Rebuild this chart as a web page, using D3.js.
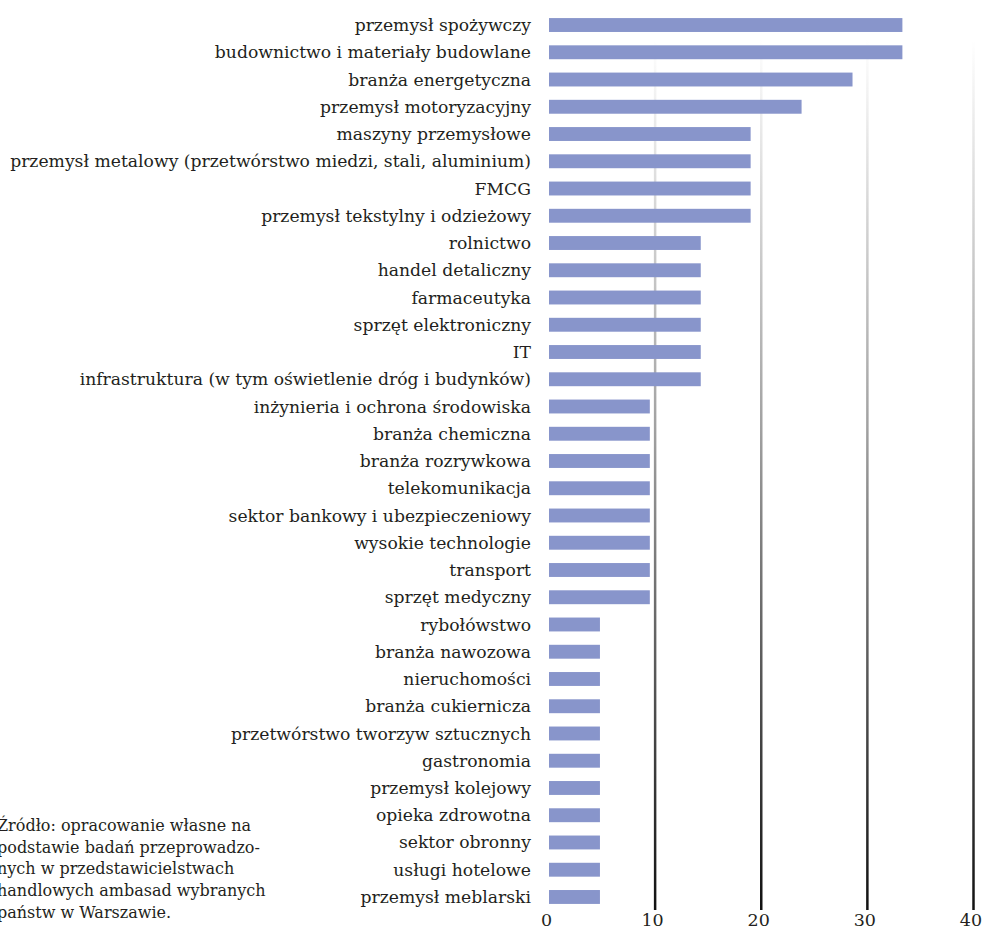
<!DOCTYPE html>
<html>
<head>
<meta charset="utf-8">
<script src="https://cdn.jsdelivr.net/npm/d3@7"></script>
<style>
  body { margin: 0; background: #fff; }
  svg text { font-family: 'DejaVu Serif', serif; fill: #231f20; }
</style>
</head>
<body>
<svg width="986" height="932"></svg>
<script>
var categories = [
  "przemysł spożywczy",
  "budownictwo i materiały budowlane",
  "branża energetyczna",
  "przemysł motoryzacyjny",
  "maszyny przemysłowe",
  "przemysł metalowy (przetwórstwo miedzi, stali, aluminium)",
  "FMCG",
  "przemysł tekstylny i odzieżowy",
  "rolnictwo",
  "handel detaliczny",
  "farmaceutyka",
  "sprzęt elektroniczny",
  "IT",
  "infrastruktura (w tym oświetlenie dróg i budynków)",
  "inżynieria i ochrona środowiska",
  "branża chemiczna",
  "branża rozrywkowa",
  "telekomunikacja",
  "sektor bankowy i ubezpieczeniowy",
  "wysokie technologie",
  "transport",
  "sprzęt medyczny",
  "rybołówstwo",
  "branża nawozowa",
  "nieruchomości",
  "branża cukiernicza",
  "przetwórstwo tworzyw sztucznych",
  "gastronomia",
  "przemysł kolejowy",
  "opieka zdrowotna",
  "sektor obronny",
  "usługi hotelowe",
  "przemysł meblarski"
];
var values = [
  33.3, 33.3, 28.6, 23.8,
  19.0, 19.0, 19.0, 19.0,
  14.3, 14.3, 14.3, 14.3, 14.3, 14.3,
  9.5, 9.5, 9.5, 9.5, 9.5, 9.5, 9.5, 9.5,
  4.8, 4.8, 4.8, 4.8, 4.8, 4.8, 4.8, 4.8, 4.8, 4.8, 4.8
];
var xTicks = [0, 10, 20, 30, 40];
var sourceLines = [
  "Źródło: opracowanie własne na",
  "podstawie badań przeprowadzo-",
  "nych w przedstawicielstwach",
  "handlowych ambasad wybranych",
  "państw w Warszawie."
];

var data = categories.map(function(c, i) { return {name: c, value: values[i]}; });

var svg = d3.select("svg");
var x = d3.scaleLinear().domain([0, 40]).range([549, 973.5]);
var y = d3.scaleBand().domain(categories).range([11.4, 910.6]).paddingInner(0.49).paddingOuter(0.245);

// gradient for grid lines (light at top, dark at bottom)
var defs = svg.append("defs");
var grad = defs.append("linearGradient")
    .attr("id", "gridGrad")
    .attr("gradientUnits", "userSpaceOnUse")
    .attr("x1", 0).attr("y1", 40).attr("x2", 0).attr("y2", 910);
grad.append("stop").attr("offset", "0%").attr("stop-color", "#ffffff");
grad.append("stop").attr("offset", "45%").attr("stop-color", "#a0a0a0");
grad.append("stop").attr("offset", "100%").attr("stop-color", "#111111");

svg.append("g")
  .selectAll("line")
  .data(xTicks.filter(function(d) { return d > 0; }))
  .enter()
  .append("line")
  .attr("x1", function(d) { return x(d); })
  .attr("x2", function(d) { return x(d); })
  .attr("y1", 40)
  .attr("y2", 910)
  .attr("stroke", "url(#gridGrad)")
  .attr("stroke-width", 2.5);

svg.append("g")
  .selectAll("rect")
  .data(data)
  .enter()
  .append("rect")
  .attr("x", x(0))
  .attr("y", function(d) { return y(d.name); })
  .attr("width", function(d) { return x(d.value) - x(0); })
  .attr("height", y.bandwidth())
  .attr("fill", "#8895cb");

// category labels
svg.append("g")
  .selectAll("text")
  .data(data)
  .enter()
  .append("text")
  .attr("x", 531)
  .attr("y", function(d) { return y(d.name) + y.bandwidth() / 2; })
  .attr("dy", "0.35em")
  .attr("text-anchor", "end")
  .style("font-size", "17.2px")
  .text(function(d) { return d.name; });

// x axis
var xAxis = svg.append("g")
  .attr("transform", "translate(0,909)")
  .call(d3.axisBottom(x).tickValues(xTicks).tickSize(0).tickPadding(5));
xAxis.attr("font-family", null);
xAxis.select(".domain").remove();
xAxis.selectAll("text")
  .attr("dx", "-3px")
  .style("font-size", "17.5px");

// source note (starts just past the left edge, as in the original)
svg.append("g")
  .selectAll("text")
  .data(sourceLines)
  .enter()
  .append("text")
  .attr("x", -3)
  .attr("y", function(d, i) { return 831 + i * 21.7; })
  .style("font-size", "16px")
  .text(function(d) { return d; });
</script>
</body>
</html>
